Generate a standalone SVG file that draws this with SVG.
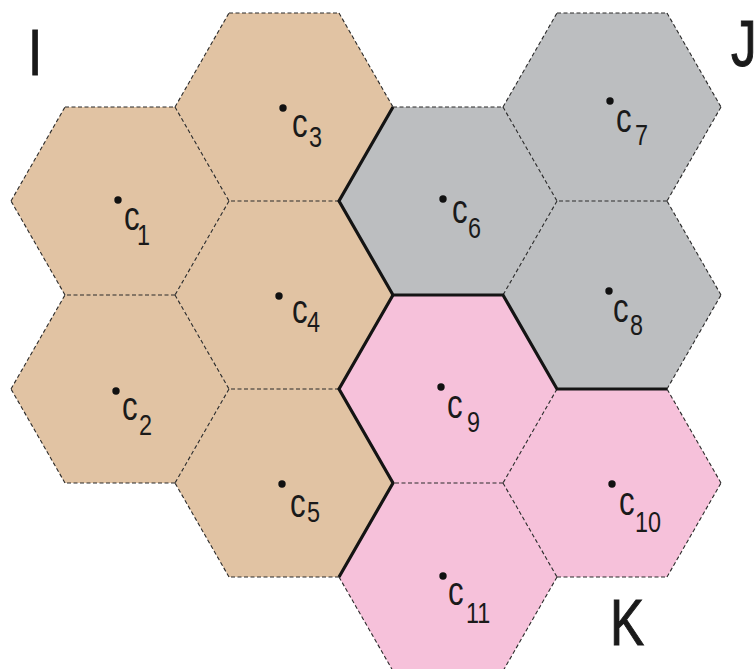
<svg xmlns="http://www.w3.org/2000/svg" width="756" height="669" viewBox="0 0 756 669">
<style>
.tan{fill:#e1c3a3}
.gray{fill:#bcbec0}
.pink{fill:#f6c1da}
.dot{fill:#111}
.lbl{font-family:"Liberation Sans",Arial,sans-serif;font-size:40px;fill:#1a1a1a}
.sub{font-family:"Liberation Sans",Arial,sans-serif;font-size:30px;fill:#1a1a1a}
.big{font-family:"Liberation Sans",Arial,sans-serif;font-size:64px;fill:#1a1a1a;stroke:#1a1a1a;stroke-width:1}
.dash{fill:none;stroke:#2a2a2a;stroke-width:1.1;stroke-dasharray:4 2.5}
.thick{fill:none;stroke:#141414;stroke-width:3.2;stroke-linejoin:miter;stroke-linecap:butt}
</style>
<rect width="756" height="669" fill="#ffffff"/>
<g id="region-I">
<g id="c1"><polygon class="tan" points="11,201 65,107 175,107 229,201 175,295 65,295"/><circle class="dot" cx="118" cy="200" r="3.7"/><text class="lbl" transform="matrix(0.78,0,0,1,124,230)">c</text><text class="sub" transform="matrix(0.78,0,0,1,137,245)">1</text></g>
<g id="c2"><polygon class="tan" points="11,389 65,295 175,295 229,389 175,483 65,483"/><circle class="dot" cx="116" cy="391" r="3.7"/><text class="lbl" transform="matrix(0.78,0,0,1,122,420)">c</text><text class="sub" transform="matrix(0.78,0,0,1,139,435)">2</text></g>
<g id="c3"><polygon class="tan" points="175,107 229,13 339,13 393,107 339,201 229,201"/><circle class="dot" cx="283" cy="108" r="3.7"/><text class="lbl" transform="matrix(0.78,0,0,1,292,137)">c</text><text class="sub" transform="matrix(0.78,0,0,1,309,147)">3</text></g>
<g id="c4"><polygon class="tan" points="175,295 229,201 339,201 393,295 339,389 229,389"/><circle class="dot" cx="279" cy="296" r="3.7"/><text class="lbl" transform="matrix(0.78,0,0,1,292,323)">c</text><text class="sub" transform="matrix(0.78,0,0,1,307,332)">4</text></g>
<g id="c5"><polygon class="tan" points="175,483 229,389 339,389 393,483 339,577 229,577"/><circle class="dot" cx="282" cy="484" r="3.7"/><text class="lbl" transform="matrix(0.78,0,0,1,290,517)">c</text><text class="sub" transform="matrix(0.78,0,0,1,307,522)">5</text></g>
</g>
<g id="region-J">
<g id="c6"><polygon class="gray" points="339,201 393,107 503,107 557,201 503,295 393,295"/><circle class="dot" cx="443" cy="199" r="3.7"/><text class="lbl" transform="matrix(0.78,0,0,1,452,223)">c</text><text class="sub" transform="matrix(0.78,0,0,1,468,238)">6</text></g>
<g id="c7"><polygon class="gray" points="503,107 557,13 667,13 721,107 667,201 557,201"/><circle class="dot" cx="610" cy="101" r="3.7"/><text class="lbl" transform="matrix(0.78,0,0,1,616,132)">c</text><text class="sub" transform="matrix(0.78,0,0,1,635,145)">7</text></g>
<g id="c8"><polygon class="gray" points="503,295 557,201 667,201 721,295 667,389 557,389"/><circle class="dot" cx="609" cy="291" r="3.7"/><text class="lbl" transform="matrix(0.78,0,0,1,613,322)">c</text><text class="sub" transform="matrix(0.78,0,0,1,630,335)">8</text></g>
</g>
<g id="region-K">
<g id="c9"><polygon class="pink" points="339,389 393,295 503,295 557,389 503,483 393,483"/><circle class="dot" cx="441" cy="387" r="3.7"/><text class="lbl" transform="matrix(0.78,0,0,1,447,418)">c</text><text class="sub" transform="matrix(0.78,0,0,1,467,432)">9</text></g>
<g id="c10"><polygon class="pink" points="503,483 557,389 667,389 721,483 667,577 557,577"/><circle class="dot" cx="612" cy="484" r="3.7"/><text class="lbl" transform="matrix(0.78,0,0,1,619,515)">c</text><text class="sub" transform="matrix(0.78,0,0,1,635,532)">10</text></g>
<g id="c11"><polygon class="pink" points="339,577 393,483 503,483 557,577 503,671 393,671"/><circle class="dot" cx="443" cy="576" r="3.7"/><text class="lbl" transform="matrix(0.78,0,0,1,448,605)">c</text><text class="sub" transform="matrix(0.78,0,0,1,466,623)">11</text></g>
</g>
<g id="connectors">
<path class="dash" d="M11,201 L65,107 M65,107 L175,107 M175,107 L229,201 M229,201 L175,295 M175,295 L65,295 M65,295 L11,201
M11,389 L65,295 M175,295 L229,389 M229,389 L175,483 M175,483 L65,483 M65,483 L11,389
M175,107 L229,13 M229,13 L339,13 M339,13 L393,107 M339,201 L229,201
M339,389 L229,389 M339,577 L229,577 M229,577 L175,483
M393,107 L503,107 M503,107 L557,201 M557,201 L503,295
M503,107 L557,13 M557,13 L667,13 M667,13 L721,107 M721,107 L667,201 M667,201 L557,201
M667,389 L721,295 M721,295 L667,201
M557,389 L503,483 M503,483 L393,483
M503,483 L557,577 M557,577 L667,577 M667,577 L721,483 M721,483 L667,389
M339,577 L393,671 M557,577 L503,671"/>
<path class="thick" d="M393,107 L339,201 L393,295 L503,295 L557,389 L667,389"/>
<path class="thick" d="M393,295 L339,389 L393,483 L339,577"/>
</g>
<text class="big" transform="matrix(0.8,0,0,1,28,75)">I</text>
<text class="big" transform="matrix(0.8,0,0,1,731,66)">J</text>
<text class="big" transform="matrix(0.8,0,0,1,610,645)">K</text>
</svg>
